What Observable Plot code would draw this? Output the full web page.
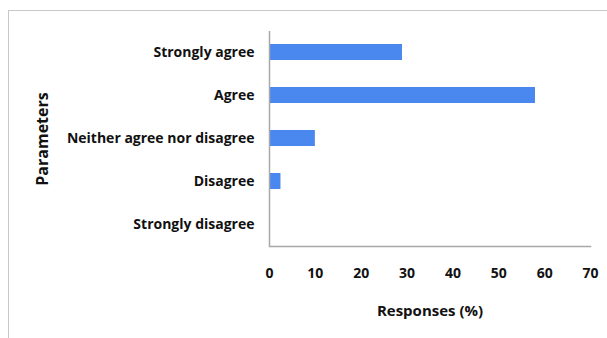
<!DOCTYPE html>
<html>
<head>
<meta charset="utf-8">
<script src="https://cdn.jsdelivr.net/npm/d3@7"></script>
<script src="https://cdn.jsdelivr.net/npm/@observablehq/plot@0.6"></script>
<style>
  html, body { margin: 0; padding: 0; background: #fff; }
  #wrap { position: relative; width: 607px; height: 338px; overflow: hidden; }
  #border { position: absolute; left: 8px; top: 10px; width: 620px; height: 340px; border: 1px solid #c8c8c8; box-sizing: border-box; }
  #chart { position: absolute; left: 0; top: 0; }
  #chart svg [aria-label="y-axis label"] text { font-size: 16px; }
  #chart svg [aria-label="x-axis label"] text { font-size: 15px; }
</style>
</head>
<body>
<div id="wrap"><div id="border"></div><div id="chart"></div></div>
<script>
const categories = ["Strongly agree", "Agree", "Neither agree nor disagree", "Disagree", "Strongly disagree"];
const responses = [29, 58, 10, 2.5, 0];
const xTicks = [0, 10, 20, 30, 40, 50, 60, 70];

const data = categories.map((c, i) => ({category: c, value: responses[i]}));

const chart = Plot.plot({
  width: 607,
  height: 338,
  marginLeft: 269,
  marginRight: 17,
  marginTop: 31,
  marginBottom: 92,
  style: {fontFamily: "'Open Sans', sans-serif", fontWeight: "bold", color: "#111", background: "transparent"},
  x: {domain: [0, 70]},
  y: {domain: categories, paddingInner: 0.62, paddingOuter: 0.31},
  marks: [
    Plot.barX(data, {x: "value", y: "category", fill: "#4a87ee"}),
    Plot.axisX({ticks: xTicks, tickSize: 0, tickPadding: 22, fontSize: 14, label: "Responses (%)", labelAnchor: "center", labelArrow: "none", labelOffset: 69}),
    Plot.axisY({tickSize: 0, tickPadding: 15, fontSize: 14, label: "Parameters", labelAnchor: "center", labelArrow: "none", labelOffset: 233}),
    Plot.ruleX([0], {stroke: "#a8a8a8", strokeWidth: 1.5}),
    Plot.frame({anchor: "bottom", stroke: "#a8a8a8", strokeWidth: 1.5})
  ]
});
document.getElementById("chart").appendChild(chart);
</script>
</body>
</html>
